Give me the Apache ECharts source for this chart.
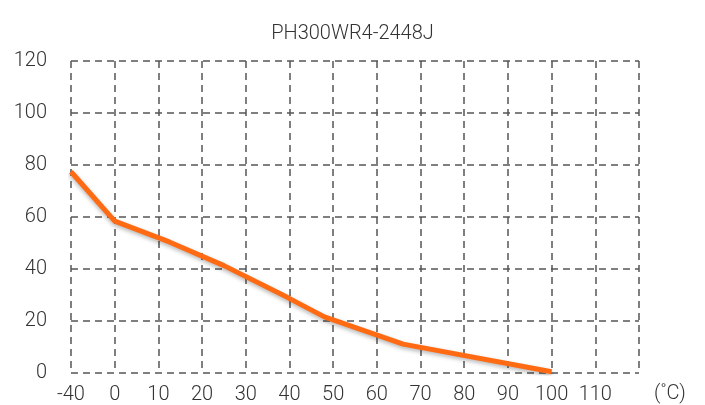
<!DOCTYPE html>
<html>
<head>
<meta charset="utf-8">
<script src="https://cdn.jsdelivr.net/npm/echarts@6/dist/echarts.min.js"></script>
<style>
  html, body { margin: 0; padding: 0; background: #fff; }
  #chart { width: 705px; height: 405px; }
</style>
</head>
<body>
<div id="chart"></div>
<script>
// x tick labels (one grid column each, -40 gets a column of its own)
const xLabels = ['-40', '0', '10', '20', '30', '40', '50', '60', '70', '80', '90', '100', '110', '']
// derating curve, ambient temperature (°C) vs load (%)
const temps = [-40, 0, 12.5, 25, 39.5, 48, 66, 100]
const loads = [77.4, 58.4, 50.4, 41.3, 29.1, 21.6, 11.1, 0.5]

// the axis is piecewise: -40..0 is one column, then 10 °C per column
function tempToPos(t) {
  return t < 0 ? (t + 40) / 40 : 1 + t / 10
}

const font = 'Roboto'
const gridLine = { show: true, lineStyle: { color: '#555', width: 1.5, type: [7, 5] } }

const chart = echarts.init(document.getElementById('chart'))
chart.setOption({
  animation: false,
  title: {
    text: 'PH300WR4-2448J',
    left: 'center',
    top: 19,
    textStyle: { fontFamily: font, fontSize: 20, fontWeight: 300, color: '#333' }
  },
  grid: { left: 71, right: 66, top: 61, bottom: 29 },
  xAxis: {
    type: 'value',
    min: 0,
    max: xLabels.length - 1,
    interval: 1,
    name: '(˚C)',
    nameLocation: 'end',
    nameGap: 15,
    nameTextStyle: { fontFamily: font, fontSize: 20, fontWeight: 300, color: '#333', verticalAlign: 'top', padding: [11, 0, 0, 0] },
    axisLine: { show: false },
    axisTick: { show: false },
    axisLabel: {
      margin: 12,
      fontFamily: font, fontSize: 20, fontWeight: 300, color: '#333',
      showMaxLabel: true,
      formatter: v => xLabels[Math.round(v)]
    },
    splitLine: gridLine
  },
  yAxis: {
    type: 'value',
    min: 0,
    max: 120,
    interval: 20,
    axisLine: { show: false },
    axisTick: { show: false },
    axisLabel: { margin: 24, fontFamily: font, fontSize: 20, fontWeight: 300, color: '#333' },
    splitLine: gridLine
  },
  series: [{
    type: 'line',
    data: temps.map((t, i) => [tempToPos(t), loads[i]]),
    showSymbol: false,
    lineStyle: {
      color: '#ff6a13',
      width: 5,
      shadowColor: 'rgba(0,0,0,0.3)',
      shadowBlur: 4,
      shadowOffsetY: 2
    }
  }]
})
</script>
</body>
</html>
